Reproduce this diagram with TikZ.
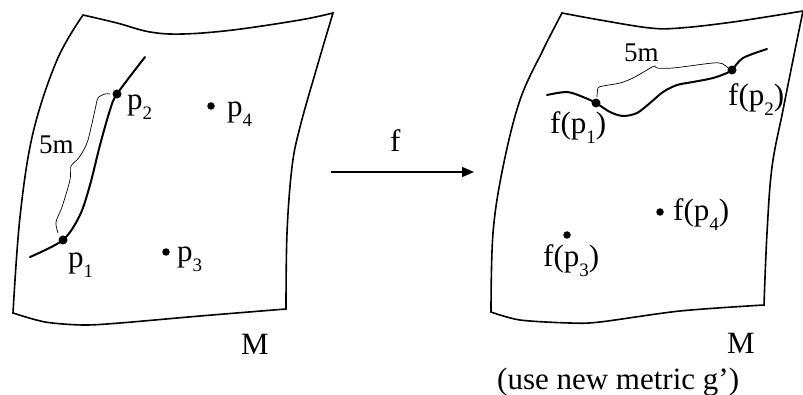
\documentclass[tikz,border=0pt]{standalone}
\usepackage{fontspec}
\setmainfont{Liberation Serif}
\usetikzlibrary{arrows.meta}
\newcommand{\sbs}[1]{\raisebox{-0.32em}{\fontsize{19}{19}\selectfont #1}}
\tikzset{
  sheet/.style={line width=1.6pt, line join=miter},
  curvy/.style={line width=2pt, line cap=round},
  brace/.style={line width=0.7pt},
  dot/.style={circle, fill=black, inner sep=0pt, minimum size=9pt},
  sdot/.style={circle, fill=black, inner sep=0pt, minimum size=7.5pt},
  lbl/.style={anchor=base west, inner sep=0pt, font=\fontsize{31}{36}\selectfont},
  slbl/.style={anchor=base west, inner sep=0pt, font=\fontsize{27}{32}\selectfont},
  arr/.style={line width=1.6pt, -{Triangle[length=12pt,width=10pt]}}
}
\begin{document}
\begin{tikzpicture}[x=1pt,y=-1pt]
\useasboundingbox (0,0) rectangle (803,395);
% left sheet
\draw[sheet] plot[smooth,tension=0.6] coordinates {(83,15) (117,23) (150,32) (183,34) (233,30) (300,20) (333,13)}
  -- plot[smooth,tension=0.6] coordinates {(333,13) (317,67) (300,127) (292,167) (287,233) (286,309)}
  -- plot[smooth,tension=0.5] coordinates {(286,309) (200,316) (120,323) (83,325) (45,322) (13,313)}
  -- plot[smooth,tension=0.6] coordinates {(13,313) (20,217) (33,133) (57,60) (83,15)} -- cycle;
% right sheet
\draw[sheet] plot[smooth,tension=0.6] coordinates {(562,13) (600,20) (650,28) (680,28) (733,22) (803,11)}
  -- plot[smooth,tension=0.6] coordinates {(803,11) (795,50) (783,110) (772,167) (767,233) (764,305)}
  -- plot[smooth,tension=0.5] coordinates {(764,305) (680,311) (600,322) (570,323) (520,320) (491,312)}
  -- plot[smooth,tension=0.6] coordinates {(491,312) (493,233) (503,167) (520,100) (543,50) (562,13)} -- cycle;
% left curve
\draw[curvy] plot[smooth] coordinates {(30,257) (63,240) (80,215) (90,185) (100,145) (110,110) (117,94) (145,57)};
\node[dot] (p1) at (63,240) {};
\node[dot] (p2) at (117,94) {};
\node[sdot] (p3) at (166,252) {};
\node[sdot] (p4) at (211,106) {};
% left brace
\draw[brace] plot[smooth,tension=0.5] coordinates {(58,233) (56,222) (62,207) (70,180) (71,166) (77,160) (82,153) (88,140) (95,110) (98,98) (105,94) (110,94)};
\node[slbl] (l5m) at (39,154) {5m};
% left labels
\node[lbl] (t1) at (68,268) {p\sbs{1}};
\node[lbl] (t2) at (127,110) {p\sbs{2}};
\node[lbl] (t3) at (177,262) {p\sbs{3}};
\node[lbl] (t4) at (227,117) {p\sbs{4}};
\node[lbl] (M1) at (241,354) {M};
% arrow
\coordinate (a0) at (331,172);
\coordinate (a1) at (474,172);
\draw[arr] (a0) -- (a1);
\node[lbl] (fl) at (390,152) {f};
% right curve
\draw[curvy] plot[smooth] coordinates {(547,95) (567,92) (583,97) (596,103) (610,112) (623,116) (637,113) (650,103) (663,92) (677,85) (693,82) (713,78) (727,73) (732,70) (743,58) (767,49)};
\node[dot] (q1) at (596,103) {};
\node[dot] (q2) at (732,70) {};
\node[sdot] (q3) at (567,235) {};
\node[sdot] (q4) at (660,212) {};
% right brace
\draw[brace] plot[smooth,tension=0.5] coordinates {(597,97) (598,88) (603,86) (620,83) (633,78) (647,70) (652,67) (655,66) (657,68) (673,68) (713,63) (723,64) (728,68)};
\node[slbl] (r5m) at (624,62) {5m};
% right labels
\node[lbl] (u1) at (550,134) {f(p\sbs{1})};
\node[lbl] (u2) at (728,106) {f(p\sbs{2})};
\node[lbl] (u3) at (543,267) {f(p\sbs{3})};
\node[lbl] (u4) at (673,221) {f(p\sbs{4})};
\node[lbl] (M2) at (727,353) {M};
\node[lbl] (note) at (497,389) {(use new metric g')};
\end{tikzpicture}
\end{document}
